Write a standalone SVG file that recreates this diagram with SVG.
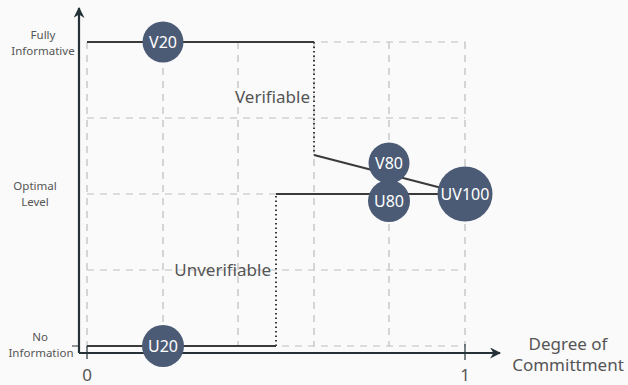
<svg xmlns="http://www.w3.org/2000/svg" width="628" height="385" viewBox="0 0 628 385">
<defs>
<marker id="arr" viewBox="0 0 10 10" refX="9" refY="5" markerWidth="5" markerHeight="5" orient="auto" markerUnits="strokeWidth">
<path d="M0,0 L10,5 L0,10 L3,5 z" fill="#243238"/>
</marker>
<style>
.grid{stroke:#bdbdbd;stroke-width:1.2;stroke-dasharray:7 6;fill:none}
.axis{stroke:#243238;stroke-width:2.2;fill:none}
.line{stroke:#3a3a3a;stroke-width:2;fill:none}
.dot{stroke:#3a3a3a;stroke-width:2;stroke-dasharray:1.5 3;fill:none}
.node circle{fill:#4b5b75}
.node text{fill:#ffffff;font-family:"Noto Sans","Open Sans",sans-serif;font-size:16px;text-anchor:middle;dominant-baseline:central}
.lbl{fill:#555;font-family:"Noto Sans","Open Sans",sans-serif;font-size:11.5px;text-anchor:middle}
.big{fill:#555;font-family:"Noto Sans","Open Sans",sans-serif;font-size:17px}
</style>
</defs>
<rect width="628" height="385" fill="#fafafa"/>
<g id="grid">
<path class="grid" d="M87,42V352 M163,42V346 M238,42V346 M314,42V346 M389,42V346 M465,42V346"/>
<path class="grid" d="M87,42H465 M87,118H465 M87,194H465 M87,270H465 M87,346H465"/>
</g>
<g id="connectors">
<path class="line" d="M87,42H314"/>
<path class="dot" d="M314,42V155"/>
<path class="line" d="M314,155L465,194"/>
<path class="line" d="M276,194H465"/>
<path class="dot" d="M276,196V346"/>
<path class="line" d="M87,346H276"/>
</g>
<g id="axes">
<path class="axis" d="M79,353V8" marker-end="url(#arr)"/>
<path class="axis" d="M79,353H500" marker-end="url(#arr)"/>
<path d="M87,346V359 M465,344V360 M72,346H79" stroke="#243238" stroke-width="1.2"/>
</g>
<g id="labels">
<text class="lbl" x="43" y="39">Fully</text>
<text class="lbl" x="43" y="55">Informative</text>
<text class="lbl" x="35" y="190">Optimal</text>
<text class="lbl" x="35" y="206">Level</text>
<text class="lbl" x="40" y="341">No</text>
<text class="lbl" x="41" y="357">Information</text>
<text class="big" x="87" y="381" text-anchor="middle" font-size="15">0</text>
<text class="big" x="465" y="381" text-anchor="middle" font-size="15">1</text>
<text class="big" x="568" y="350" text-anchor="middle" font-size="16">Degree of</text>
<text class="big" x="568" y="371" text-anchor="middle" font-size="16">Committment</text>
<text class="big" x="310" y="103" text-anchor="end">Verifiable</text>
<text class="big" x="271" y="276" text-anchor="end">Unverifiable</text>
</g>
<g id="V20" class="node"><circle cx="163" cy="42" r="20.5"/><text x="163" y="42">V20</text></g>
<g id="U20" class="node"><circle cx="163" cy="346" r="21"/><text x="163" y="346">U20</text></g>
<g id="V80" class="node"><circle cx="389" cy="163" r="20.5"/><text x="389" y="163">V80</text></g>
<g id="U80" class="node"><circle cx="389" cy="201" r="21"/><text x="389" y="201">U80</text></g>
<g id="UV100" class="node"><circle cx="465" cy="194" r="27.5"/><text x="465" y="194">UV100</text></g>
</svg>
